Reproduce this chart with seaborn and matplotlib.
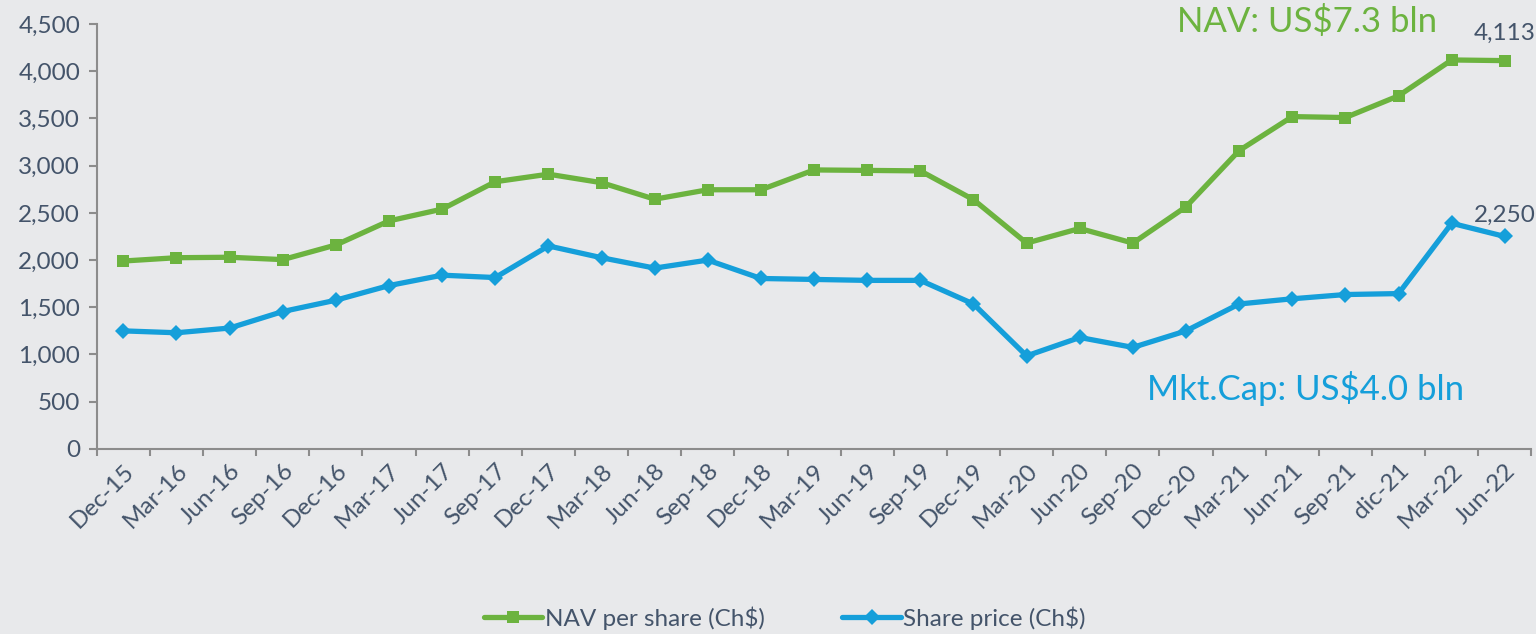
import numpy as np
import pandas as pd
import matplotlib
matplotlib.use("Agg")
import matplotlib.pyplot as plt
import seaborn as sns
from matplotlib.ticker import FixedLocator, FuncFormatter

categories = ["Dec-15", "Mar-16", "Jun-16", "Sep-16", "Dec-16", "Mar-17", "Jun-17", "Sep-17",
              "Dec-17", "Mar-18", "Jun-18", "Sep-18", "Dec-18", "Mar-19", "Jun-19", "Sep-19",
              "Dec-19", "Mar-20", "Jun-20", "Sep-20", "Dec-20", "Mar-21", "Jun-21", "Sep-21",
              "dic-21", "Mar-22", "Jun-22"]
nav_per_share = [1990, 2025, 2030, 2005, 2160, 2415, 2540, 2830, 2910, 2820, 2645, 2745, 2745,
                 2955, 2950, 2945, 2640, 2180, 2335, 2180, 2565, 3160, 3520, 3510, 3740, 4120, 4113]
share_price = [1250, 1230, 1280, 1455, 1575, 1730, 1840, 1815, 2150, 2025, 1915, 2000, 1805,
               1795, 1785, 1785, 1535, 985, 1180, 1075, 1250, 1535, 1590, 1635, 1645, 2390, 2250]
series_names = ["NAV per share (Ch$)", "Share price (Ch$)"]
y_ticks = [0, 500, 1000, 1500, 2000, 2500, 3000, 3500, 4000, 4500]

GREEN = "#6CB33F"
BLUE = "#159FDA"
TEXT = "#44546A"
BG = "#E8E9EB"
SPINE = "#8C8C8C"

sns.set_theme(style="white")
plt.rcParams["font.family"] = ["Lato", "DejaVu Sans"]

FS = 17.5

df = pd.DataFrame({
    "idx": list(range(len(categories))) * 2,
    "value": nav_per_share + share_price,
    "series": [series_names[0]] * len(categories) + [series_names[1]] * len(categories),
})

fig = plt.figure(figsize=(15.36, 6.34), dpi=100, facecolor=BG)
ax = fig.add_axes([0.063, 0.292, 0.934, 0.670])
ax.set_facecolor(BG)

sns.lineplot(data=df, x="idx", y="value", hue="series", style="series",
             palette={series_names[0]: GREEN, series_names[1]: BLUE},
             markers={series_names[0]: "s", series_names[1]: "D"},
             dashes=False, sort=False, linewidth=3.8, markersize=8.5,
             markeredgewidth=0, ax=ax, legend=True)

n = len(categories)
ax.set_xlim(-0.5, n - 0.5)
ax.set_ylim(0, 4500)
ax.xaxis.set_major_locator(FixedLocator(np.arange(-0.5, n, 1.0)))
ax.xaxis.set_major_formatter(FuncFormatter(lambda v, p: ""))
ax.xaxis.set_minor_locator(FixedLocator(np.arange(0, n, 1.0)))
ax.xaxis.set_minor_formatter(FuncFormatter(lambda v, p: categories[int(round(v))] if 0 <= int(round(v)) < n else ""))
ax.set_yticks(y_ticks)
ax.yaxis.set_major_formatter(FuncFormatter(lambda v, p: f"{int(v):,}"))

ax.tick_params(axis="x", which="major", direction="out", length=5, width=1.5, color=SPINE, bottom=True)
ax.tick_params(axis="x", which="minor", length=0, labelsize=FS, labelcolor=TEXT, pad=8, bottom=True)
ax.tick_params(axis="y", direction="out", length=6, width=1.5, color=SPINE, labelsize=FS,
               labelcolor=TEXT, left=True, pad=6)
for lbl in ax.get_xticklabels(minor=True):
    lbl.set_rotation(45)
    lbl.set_ha("right")
    lbl.set_rotation_mode("anchor")

for s in ["top", "right"]:
    ax.spines[s].set_visible(False)
for s in ["left", "bottom"]:
    ax.spines[s].set_color(SPINE)
    ax.spines[s].set_linewidth(1.5)

ax.set_xlabel("")
ax.set_ylabel("")

ax.annotate(f"{nav_per_share[-1]:,}", (n - 1, nav_per_share[-1]), xytext=(0, 12),
            textcoords="offset points", ha="center", va="bottom", fontsize=FS, color=TEXT)
ax.annotate(f"{share_price[-1]:,}", (n - 1, share_price[-1]), xytext=(0, 8),
            textcoords="offset points", ha="center", va="bottom", fontsize=FS, color=TEXT)

fig.text(0.851, 1 - 22 / 634, "NAV: US$7.3 bln", ha="center", va="center", fontsize=25, color=GREEN)
fig.text(0.850, 1 - 388 / 634, "Mkt.Cap: US$4.0 bln", ha="center", va="center", fontsize=25, color=BLUE)

ax.legend_.remove()
handles, labels = ax.get_legend_handles_labels()
leg = fig.legend(handles, labels, loc="center", bbox_to_anchor=(0.511, 1 - 618 / 634), ncol=2,
                 frameon=False, fontsize=FS, handlelength=2.4, handletextpad=0.1,
                 columnspacing=3.2, labelcolor=TEXT)

fig.savefig("out.png", dpi=100, facecolor=BG)
